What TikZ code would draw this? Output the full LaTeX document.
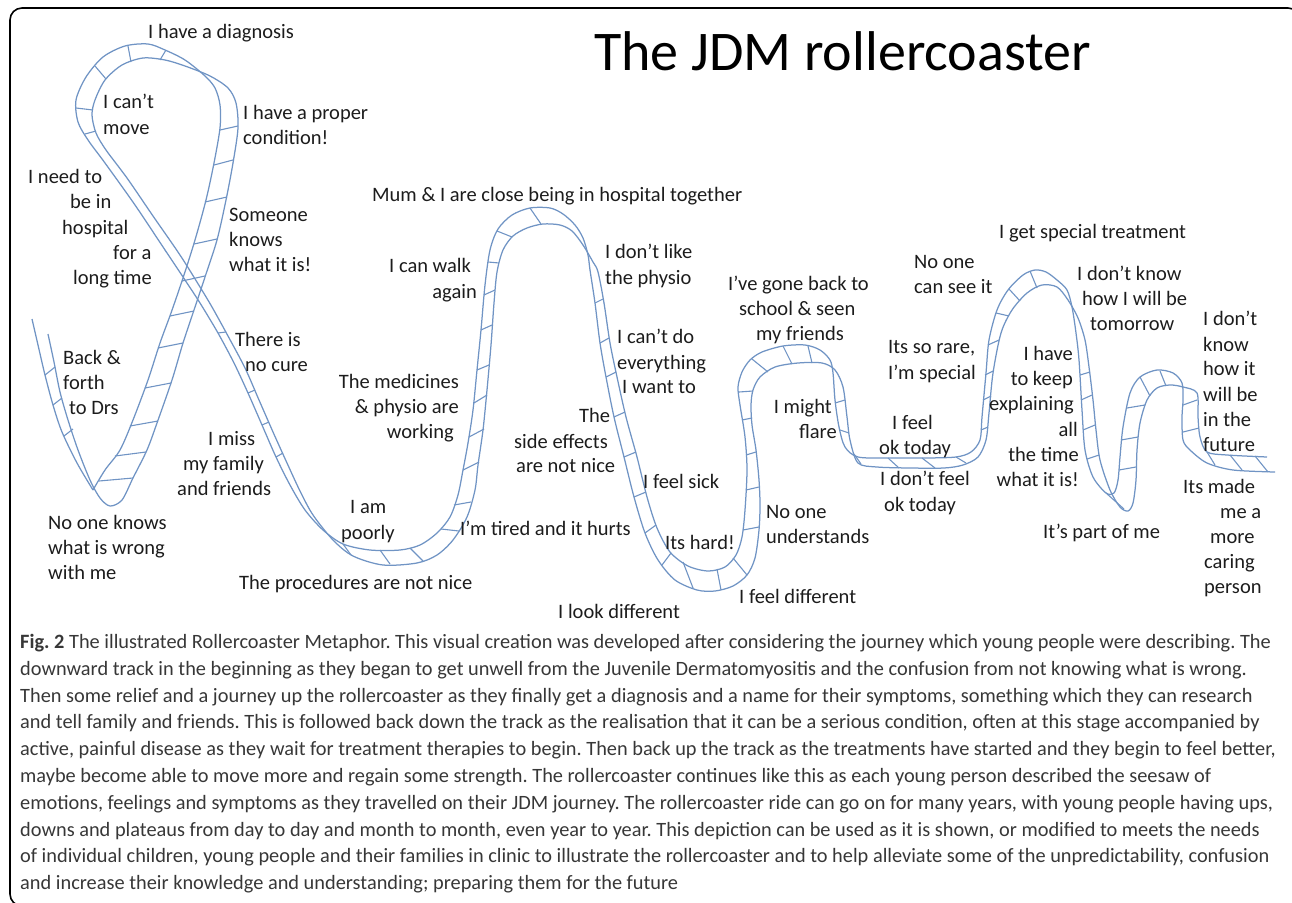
\documentclass[tikz,border=0pt]{standalone}
\usepackage{fontspec}
\setmainfont{Carlito}
\frenchspacing
\definecolor{railblue}{RGB}{112,148,196}
\definecolor{labeltext}{RGB}{28,28,28}
\definecolor{captiontext}{RGB}{55,55,55}
\tikzset{
  railline/.style={draw=railblue, line width=1.25pt, line join=round},
  tieline/.style={draw=railblue, line width=1.1pt},
  lab/.style={font=\fontsize{20.5}{25}\selectfont, text=labeltext, inner sep=0pt, anchor=mid west},
  labr/.style={font=\fontsize{20.5}{25}\selectfont, text=labeltext, inner sep=0pt, anchor=mid east},
  capline/.style={font=\fontsize{20.35}{26}\selectfont, text=captiontext, inner sep=0pt, anchor=mid west},
  titletext/.style={font=\fontsize{56}{60}\selectfont, text=black, inner sep=0pt, anchor=base west},
  frameline/.style={draw=black, line width=1.6pt, rounded corners=12pt}
}
\begin{document}
\begin{tikzpicture}[x=1pt,y=-1pt]
\useasboundingbox (0,0) rectangle (1292,902);
\clip (0,0) rectangle (1292,902);
\draw[frameline] (10,906) -- (10,8) -- (1300,8) -- (1300,906) -- cycle;

% title
\node[titletext] (title) at (594,70) {The JDM rollercoaster};

% ---------------- track rails ----------------
\draw[railline] plot[smooth, tension=0.5] coordinates {(32,319) (38,345) (45,375) (53,405) (62,432) (77,463) (93,490)};
\draw[railline] plot[smooth, tension=0.5] coordinates {(93,490) (105,470) (120,450) (133,420) (148,380) (160,343) (171,313) (183,278) (195,240) (206,200) (214,163) (220,128) (220,105) (215,88) (205,76) (185,60) (165,50) (148,44) (125,46) (103,57) (86,77) (76,100) (78,122) (88,140) (105,163) (135,205) (165,250) (185,280) (200,303) (218,333) (234,363) (248,393) (262,425) (276,457) (290,485) (305,510) (323,530) (343,544) (370,550) (400,550) (420,545) (437,533) (450,517) (458,495) (463,470) (468,443) (473,410) (477,370) (481,330) (485,285) (490,250) (498,229) (512,215) (530,208) (550,208) (563,214) (575,225) (583,238) (588,255) (590,270) (595,303) (600,343) (606,377) (614,417) (624,457) (634,497) (645,533) (658,560) (675,580) (697,590) (715,591) (733,586) (747,575) (755,558) (759,530) (760,505) (759,480) (756,450) (752,425) (751,405) (753,390) (760,377) (775,367) (798,363) (822,363) (835,370) (843,387) (847,417) (850,440) (858,463) (877,467) (910,468) (944,468) (963,465) (978,457) (986,440) (989,413) (993,373) (1001,333) (1012,310) (1027,293) (1042,285) (1057,287) (1068,300) (1078,318) (1085,340) (1089,367) (1093,400) (1096,430) (1100,460) (1110,490) (1120,507) (1128,511) (1133,503) (1136,480) (1137,450) (1140,423) (1147,400) (1157,388) (1170,385) (1183,387) (1197,393) (1198,417) (1200,437) (1207,452) (1227,455) (1267,457)};
\draw[railline] plot[smooth, tension=0.5] coordinates {(48,334) (54,362) (60,392) (68,420) (78,450) (90,480) (100,498) (110,506) (122,500) (133,478) (147,450) (157,423) (172,380) (183,343) (193,313) (205,277) (217,240) (226,200) (233,163) (238,128) (236,103) (228,88) (210,76) (185,66) (165,60) (143,58) (122,65) (105,80) (95,100) (92,115) (96,133) (106,150) (127,178) (153,216) (180,255) (200,287) (212,307) (228,336) (245,368) (259,400) (273,432) (287,463) (300,491) (313,515) (333,540) (353,556) (383,565) (417,563) (437,555) (453,540) (467,517) (475,490) (478,465) (483,430) (487,390) (491,345) (494,303) (497,272) (503,250) (513,236) (527,228) (543,224) (560,225) (572,231) (583,245) (593,262) (598,272) (604,303) (610,343) (617,377) (626,417) (637,457) (647,497) (657,528) (670,552) (688,566) (708,571) (725,567) (736,555) (742,537) (745,510) (747,470) (745,437) (740,405) (738,387) (742,372) (750,360) (762,352) (783,346) (805,345) (820,350) (830,360) (833,373) (835,400) (839,427) (845,447) (858,457) (888,458) (925,458) (956,457) (971,452) (980,440) (982,417) (986,373) (989,340) (997,310) (1008,290) (1023,275) (1035,270) (1046,272) (1057,280) (1067,290) (1072,307) (1076,333) (1079,360) (1082,410) (1085,450) (1093,477) (1106,493) (1114,493) (1118,480) (1120,457) (1123,427) (1130,393) (1140,377) (1157,370) (1173,373) (1182,383) (1183,400) (1182,417) (1183,440) (1190,450) (1207,463) (1233,470) (1275,472)};

% ---------------- ties ----------------
\foreach \xa/\ya/\xb/\yb in {
 45/375/55/367, 53/405/62/398, 64/436/73/429,
 99/481/133/478, 115/456/146/452, 130/426/158/421, 145/388/171/383, 158/348/183/343,
 170/316/194/311, 182/281/205/276, 194/244/217/239, 205/202/227/197, 214/165/233/160, 220/130/238/126,
 166/50/160/60, 128/46/131/62, 95/66/106/79, 76/108/93/110, 85/134/96/131,
 218/333/226/332, 248/393/255/390, 262/425/269/422, 276/457/283/453,
 343/544/351/555, 380/550/390/564, 410/548/423/561, 441/529/459/531, 454/505/471/502,
 463/470/479/462, 469/437/484/429, 474/403/487/395, 477/370/489/365, 481/330/492/325,
 484/295/495/290, 488/262/499/263, 497/231/512/237, 530/208/541/224,
 595/303/603/299, 600/343/609/338, 606/377/616/372, 614/417/625/412, 624/457/636/452,
 634/497/646/492, 645/533/656/525, 662/565/671/553, 683/562/693/588, 717/569/721/590,
 733/558/747/575, 743/530/759/527,
 746/490/759/487, 746/455/756/452, 742/420/752/418, 739/392/753/391,
 752/359/768/372, 783/346/792/364, 808/346/812/363, 835/403/845/400, 840/430/849/433,
 854/454/861/464, 888/458/899/468, 922/458/935/468, 956/457/966/463,
 981/430/988/427, 983/400/991/396, 985/375/993/371, 988/345/999/340, 996/313/1009/316,
 1009/289/1020/301, 1030/271/1037/288,
 1080/375/1090/372, 1081/400/1092/395, 1083/430/1095/425, 1087/459/1099/455, 1106/493/1124/509,
 1119/470/1136/467, 1121/440/1138/437, 1127/408/1145/405, 1140/377/1150/396, 1160/371/1166/386,
 1183/405/1197/400, 1183/432/1199/428,
 1207/452/1215/465, 1230/455/1242/470, 1255/456/1268/472}
 \draw[tieline] (\xa,\ya) -- (\xb,\yb);

% ---------------- labels ----------------
\begin{scope}[yshift=-4pt]
\node[lab] (t1) at (148,32) {I have a diagnosis};
\node[lab] (t2a) at (103,102) {I can’t};
\node[lab] (t2b) at (103,128) {move};
\node[lab] (t3a) at (243,113) {I have a proper};
\node[lab] (t3b) at (243,138) {condition!};
\node[lab] (t4a) at (28,177) {I need to};
\node[lab] (t4b) at (70,202) {be in};
\node[lab] (t4c) at (62,228) {hospital};
\node[lab] (t4d) at (113,253) {for a};
\node[lab] (t4e) at (73,278) {long time};
\node[lab] (t5a) at (229,215) {Someone};
\node[lab] (t5b) at (229,240) {knows};
\node[lab] (t5c) at (229,265) {what it is!};
\node[lab] (t6a) at (63,358) {Back \&};
\node[lab] (t6b) at (63,383) {forth};
\node[lab] (t6c) at (69,408) {to Drs};
\node[lab] (t7a) at (235,340) {There is};
\node[lab] (t7b) at (245,365) {no cure};
\node[lab] (t8a) at (208,439) {I miss};
\node[lab] (t8b) at (183,464) {my family};
\node[lab] (t8c) at (177,489) {and friends};
\node[lab] (t9a) at (48,523) {No one knows};
\node[lab] (t9b) at (48,548) {what is wrong};
\node[lab] (t9c) at (48,573) {with me};
\node[labr] (t10a) at (459,382) {The medicines};
\node[labr] (t10b) at (459,407) {\& physio are};
\node[labr] (t10c) at (454,432) {working};
\node[lab] (t11a) at (350,507) {I am};
\node[lab] (t11b) at (341,533) {poorly};
\node[lab] (t12) at (239,583) {The procedures are not nice};
\node[lab] (t13) at (372,195) {Mum \& I are close being in hospital together};
\node[lab] (t14a) at (389,266) {I can walk};
\node[labr] (t14b) at (477,292) {again};
\node[lab] (t15a) at (605,252) {I don’t like};
\node[lab] (t15b) at (605,278) {the physio};
\node[lab] (t16a) at (617,337) {I can’t do};
\node[lab] (t16b) at (617,363) {everything};
\node[lab] (t16c) at (622,387) {I want to};
\node[lab] (t17a) at (579,416) {The};
\node[lab] (t17b) at (514,442) {side effects};
\node[lab] (t17c) at (516,466) {are not nice};
\node[lab] (t18) at (643,482) {I feel sick};
\node[lab] (t19) at (460,529) {I’m tired and it hurts};
\node[lab] (t20) at (665,543) {Its hard!};
\node[lab] (t21) at (558,612) {I look different};
\node[lab] (t22) at (999,232) {I get special treatment};
\node[lab] (t23a) at (914,262) {No one};
\node[lab] (t23b) at (914,287) {can see it};
\node[lab] (t24a) at (728,284) {I’ve gone back to};
\node[lab] (t24b) at (739,309) {school \& seen};
\node[lab] (t24c) at (756,334) {my friends};
\node[lab] (t25a) at (1077,274) {I don’t know};
\node[lab] (t25b) at (1082,299) {how I will be};
\node[lab] (t25c) at (1090,324) {tomorrow};
\node[lab] (t26a) at (1203,319) {I don’t};
\node[lab] (t26b) at (1203,345) {know};
\node[lab] (t26c) at (1203,369) {how it};
\node[lab] (t26d) at (1203,395) {will be};
\node[lab] (t26e) at (1203,420) {in the};
\node[lab] (t26f) at (1203,445) {future};
\node[lab] (t27a) at (888,347) {Its so rare,};
\node[lab] (t27b) at (888,373) {I’m special};
\node[labr] (t28a) at (1073,354) {I have};
\node[labr] (t28b) at (1073,379) {to keep};
\node[labr] (t28c) at (1074,404) {explaining};
\node[labr] (t28d) at (1078,430) {all};
\node[labr] (t28e) at (1079,455) {the time};
\node[labr] (t28f) at (1079,480) {what it is!};
\node[labr] (t29a) at (832,407) {I might};
\node[labr] (t29b) at (837,432) {flare};
\node[lab] (t30a) at (892,423) {I feel};
\node[lab] (t30b) at (879,448) {ok today};
\node[lab] (t31a) at (880,479) {I don’t feel};
\node[lab] (t31b) at (884,505) {ok today};
\node[lab] (t32a) at (766,512) {No one};
\node[lab] (t32b) at (766,537) {understands};
\node[lab] (t33) at (739,597) {I feel different};
\node[lab] (t34) at (1043,532) {It’s part of me};
\node[lab] (t35a) at (1183,487) {Its made};
\node[lab] (t35b) at (1220,512) {me a};
\node[lab] (t35c) at (1210,537) {more};
\node[lab] (t35d) at (1204,562) {caring};
\node[lab] (t35e) at (1204,587) {person};
\end{scope}

% ---------------- caption ----------------
\begin{scope}[yshift=-4pt]
\node[capline] (c1) at (20,642) {\textbf{Fig. 2} The illustrated Rollercoaster Metaphor. This visual creation was developed after considering the journey which young people were describing. The};
\node[capline] (c2) at (20,669) {downward track in the beginning as they began to get unwell from the Juvenile Dermatomyositis and the confusion from not knowing what is wrong.};
\node[capline] (c3) at (20,696) {Then some relief and a journey up the rollercoaster as they finally get a diagnosis and a name for their symptoms, something which they can research};
\node[capline] (c4) at (20,722) {and tell family and friends. This is followed back down the track as the realisation that it can be a serious condition, often at this stage accompanied by};
\node[capline] (c5) at (20,749) {active, painful disease as they wait for treatment therapies to begin. Then back up the track as the treatments have started and they begin to feel better,};
\node[capline] (c6) at (20,776) {maybe become able to move more and regain some strength. The rollercoaster continues like this as each young person described the seesaw of};
\node[capline] (c7) at (20,803) {emotions, feelings and symptoms as they travelled on their JDM journey. The rollercoaster ride can go on for many years, with young people having ups,};
\node[capline] (c8) at (20,830) {downs and plateaus from day to day and month to month, even year to year. This depiction can be used as it is shown, or modified to meets the needs};
\node[capline] (c9) at (20,856) {of individual children, young people and their families in clinic to illustrate the rollercoaster and to help alleviate some of the unpredictability, confusion};
\node[capline] (c10) at (20,883) {and increase their knowledge and understanding; preparing them for the future};
\end{scope}
\end{tikzpicture}
\end{document}
